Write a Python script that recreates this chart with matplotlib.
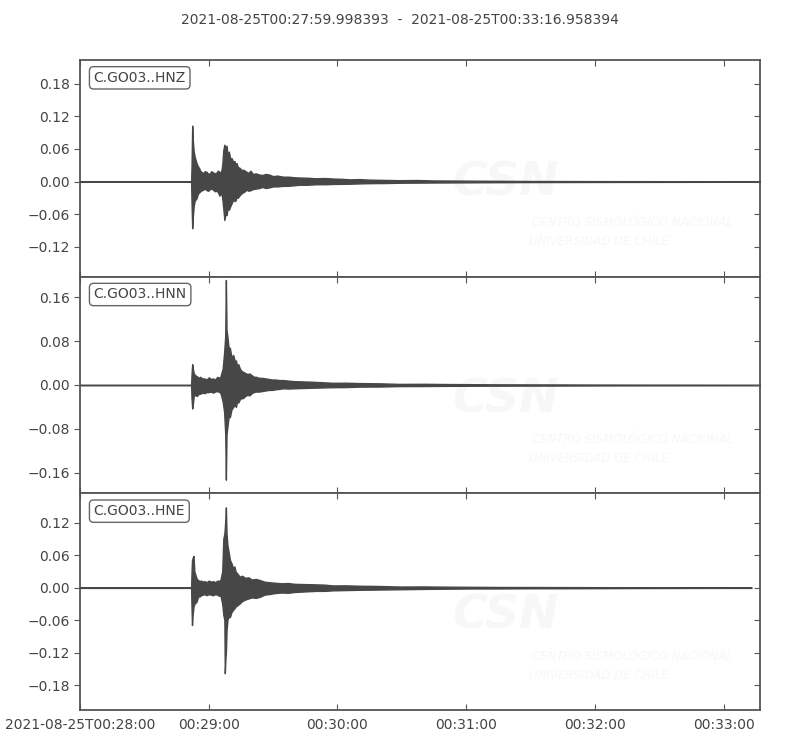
import numpy as np
import matplotlib
matplotlib.use("Agg")
import matplotlib.pyplot as plt

# trace start / end
t_start = "2021-08-25T00:27:59.998393"
t_end = "2021-08-25T00:33:16.958394"

channels = ["C.GO03..HNZ", "C.GO03..HNN", "C.GO03..HNE"]

# amplitude envelopes (seconds after start, upper, lower)
hnz_t = [0, 51.8, 52.0, 52.3, 52.6, 53.0, 53.5, 54.3, 55.0, 55.6, 56.0, 56.8,
         57.5, 58.2, 59.0, 59.8, 60.5, 61.2, 62.0, 62.8, 63.5, 64.2, 65.0,
         65.7, 66.3, 66.8, 67.3, 67.8, 68.3, 68.8, 69.4, 70.0, 70.7, 71.5,
         72.0, 72.5, 73.0, 73.5, 74.5, 75.2, 76.0, 76.8, 77.6, 78.5, 79.5,
         80.5, 82, 83.5, 85, 86.5, 88, 90, 92, 94.5, 97, 99.5, 102, 106, 110,
         114, 118, 122, 126, 130, 135, 142, 149, 157, 165, 175, 185, 197, 210,
         225, 240, 260, 280, 300, 316.96]
hnz_up = [0.0005, 0.0005, 0.03, 0.103, 0.075, 0.055, 0.045, 0.034, 0.028,
          0.024, 0.02, 0.017, 0.016, 0.019, 0.018, 0.014, 0.015, 0.019, 0.017,
          0.015, 0.016, 0.02, 0.018, 0.016, 0.03, 0.058, 0.068, 0.062, 0.066,
          0.05, 0.055, 0.043, 0.043, 0.035, 0.038, 0.031, 0.034, 0.027, 0.025,
          0.021, 0.022, 0.02, 0.018, 0.016, 0.02, 0.014, 0.015, 0.013, 0.012,
          0.014, 0.013, 0.01, 0.011, 0.009, 0.009, 0.008, 0.0074, 0.007, 0.006,
          0.0065, 0.0055, 0.005, 0.004, 0.0045, 0.0035, 0.003, 0.0025, 0.0028,
          0.002, 0.0018, 0.0015, 0.0013, 0.001, 0.0009, 0.0008, 0.0007, 0.0006,
          0.0005, 0.0005]
hnz_lo = [-0.0005, -0.0005, -0.04, -0.086, -0.065, -0.045, -0.035, -0.031,
          -0.022, -0.02, -0.018, -0.016, -0.015, -0.013, -0.016, -0.017,
          -0.014, -0.013, -0.015, -0.018, -0.017, -0.019, -0.026, -0.02, -0.03,
          -0.05, -0.071, -0.06, -0.062, -0.05, -0.052, -0.046, -0.04, -0.032,
          -0.036, -0.035, -0.028, -0.03, -0.025, -0.022, -0.02, -0.018, -0.015,
          -0.017, -0.016, -0.014, -0.013, -0.012, -0.01, -0.012, -0.011, -0.009,
          -0.009, -0.008, -0.008, -0.007, -0.006, -0.006, -0.005, -0.005,
          -0.0045, -0.0042, -0.004, -0.0035, -0.003, -0.0028, -0.0022, -0.002,
          -0.0018, -0.0016, -0.0014, -0.0012, -0.001, -0.0009, -0.0008,
          -0.0007, -0.0006, -0.0005, -0.0005]

hnn_t = [0, 51.8, 52.0, 52.3, 52.6, 53.0, 53.6, 54.5, 55.3, 56, 57, 58, 59,
         60, 61, 62, 63, 64, 65, 65.5, 66.5, 67.2, 67.7, 68.0, 68.3, 68.7,
         69.2, 69.9, 70.6, 71.4, 72.2, 72.7, 73.2, 73.8, 74.5, 75.2, 76, 77,
         78, 79, 80, 81, 82, 83.5, 85, 86.5, 88, 89.5, 91, 93, 94.7, 97, 100,
         104, 108, 113, 118, 124, 130, 140, 149, 160, 170, 182, 195, 210, 225,
         242, 260, 290, 316.96]
hnn_up = [0.0005, 0.0005, 0.02, 0.038, 0.03, 0.022, 0.018, 0.016, 0.013,
          0.015, 0.012, 0.012, 0.01, 0.014, 0.011, 0.012, 0.01, 0.015, 0.013,
          0.016, 0.03, 0.06, 0.09, 0.192, 0.1, 0.089, 0.07, 0.067, 0.05, 0.055,
          0.043, 0.045, 0.035, 0.038, 0.03, 0.026, 0.024, 0.022, 0.02, 0.021,
          0.018, 0.015, 0.015, 0.013, 0.013, 0.012, 0.011, 0.01, 0.01, 0.009,
          0.009, 0.008, 0.007, 0.0065, 0.006, 0.005, 0.004, 0.0042, 0.0035,
          0.003, 0.002, 0.0022, 0.0018, 0.0015, 0.0012, 0.0011, 0.001, 0.0008,
          0.0007, 0.0006, 0.0005]
hnn_lo = [-0.0005, -0.0005, -0.025, -0.043, -0.035, -0.02, -0.018, -0.02,
          -0.016, -0.016, -0.014, -0.015, -0.013, -0.013, -0.012, -0.014,
          -0.012, -0.011, -0.013, -0.015, -0.03, -0.05, -0.09, -0.173, -0.09,
          -0.077, -0.06, -0.058, -0.045, -0.04, -0.037, -0.04, -0.03, -0.032,
          -0.026, -0.024, -0.024, -0.02, -0.018, -0.019, -0.015, -0.013,
          -0.012, -0.012, -0.011, -0.01, -0.009, -0.009, -0.008, -0.007, -0.006,
          -0.0065, -0.006, -0.0055, -0.005, -0.0045, -0.004, -0.0038, -0.003,
          -0.0028, -0.002, -0.0019, -0.0016, -0.0014, -0.0012, -0.0011, -0.001,
          -0.0008, -0.0007, -0.0006, -0.0005]

hne_t = [0, 51.8, 52.0, 52.2, 52.5, 52.9, 53.3, 54.3, 55, 55.8, 56.5, 57.2,
         58, 59, 60, 61, 62, 63, 64, 64.8, 65.5, 66.3, 66.8, 67.3, 67.5, 67.8,
         68.0, 68.3, 68.7, 69.1, 69.9, 70.6, 71.4, 72.0, 72.5, 73.5, 74.5,
         75.5, 77, 78.5, 80, 82, 83.8, 86, 88, 91, 94, 97, 100, 105, 110, 114,
         118, 124, 130, 140, 149, 160, 170, 182, 195, 210, 225, 242, 260, 285,
         313.0]
hne_up = [0.0005, 0.0005, 0.03, 0.05, 0.055, 0.0585, 0.03, 0.017, 0.014,
          0.012, 0.013, 0.011, 0.012, 0.01, 0.013, 0.011, 0.012, 0.01, 0.013,
          0.012, 0.015, 0.03, 0.09, 0.1, 0.11, 0.13, 0.148, 0.1, 0.079, 0.07,
          0.051, 0.045, 0.036, 0.039, 0.03, 0.025, 0.02, 0.022, 0.018, 0.019,
          0.015, 0.016, 0.014, 0.011, 0.01, 0.009, 0.008, 0.0085, 0.007, 0.0065,
          0.006, 0.0055, 0.004, 0.0042, 0.0035, 0.003, 0.002, 0.0022, 0.0018,
          0.0015, 0.0012, 0.0011, 0.001, 0.0008, 0.0007, 0.0006, 0.0005]
hne_lo = [-0.0005, -0.0005, -0.04, -0.069, -0.05, -0.035, -0.03, -0.026,
          -0.017, -0.016, -0.014, -0.013, -0.012, -0.014, -0.012, -0.013,
          -0.014, -0.012, -0.013, -0.015, -0.015, -0.03, -0.05, -0.06, -0.158,
          -0.13, -0.12, -0.08, -0.06, -0.055, -0.054, -0.045, -0.041, -0.038,
          -0.035, -0.032, -0.029, -0.025, -0.022, -0.02, -0.018, -0.019, -0.017,
          -0.013, -0.012, -0.01, -0.009, -0.0095, -0.008, -0.007, -0.006,
          -0.006, -0.005, -0.0045, -0.004, -0.0035, -0.003, -0.0024, -0.002,
          -0.0016, -0.0015, -0.0012, -0.0012, -0.001, -0.0008, -0.0006, -0.0005]

ylims = [(-0.1754, 0.2241), (-0.198, 0.198), (-0.2258, 0.174)]
yticks = [[-0.12, -0.06, 0.0, 0.06, 0.12, 0.18],
          [-0.16, -0.08, 0.0, 0.08, 0.16],
          [-0.18, -0.12, -0.06, 0.0, 0.06, 0.12]]

minute_ticks = ["2021-08-25T00:28:00", "2021-08-25T00:29:00",
                "2021-08-25T00:30:00", "2021-08-25T00:31:00",
                "2021-08-25T00:32:00", "2021-08-25T00:33:00"]
minute_labels = ["2021-08-25T00:28:00", "00:29:00", "00:30:00", "00:31:00",
                 "00:32:00", "00:33:00"]


def to_time(sec):
    us = (np.asarray(sec) * 1e6).astype("int64").astype("timedelta64[us]")
    return np.datetime64(t_start) + us


def fmt(v):
    return ("%.2f" % abs(v)) if v >= 0 else "\u2212%.2f" % abs(v)


if __name__ == "__main__":
    traces = [(hnz_t, hnz_up, hnz_lo), (hnn_t, hnn_up, hnn_lo),
              (hne_t, hne_up, hne_lo)]

    fg = "#444444"
    wm = "#f7f7f7"
    fig = plt.figure(figsize=(8, 7.5), dpi=100)
    left, width = 0.1, 0.85
    bottom, top = 1 - 710 / 750, 1 - 60 / 750
    h = (top - bottom) / 3

    for i, (tt, up, lo) in enumerate(traces):
        ax = fig.add_axes([left, top - (i + 1) * h, width, h])
        x = to_time(tt)
        ax.fill_between(x, lo, up, color="#474747", edgecolor="#474747",
                        linewidth=1.0, zorder=3)

        # faint CSN watermark
        ax.text(0.626, 0.433, "CSN", transform=ax.transAxes, ha="center",
                va="center", fontsize=34, fontweight="bold", style="italic",
                color=wm, zorder=1, clip_on=True)
        ax.text(0.665, 0.249, "CENTRO SISMOLÓGICO NACIONAL",
                transform=ax.transAxes, ha="left", va="center", fontsize=8.5,
                style="italic", color=wm, zorder=1, clip_on=True)
        ax.text(0.66, 0.161, "UNIVERSIDAD DE CHILE", transform=ax.transAxes,
                ha="left", va="center", fontsize=8.5, style="italic",
                color=wm, zorder=1, clip_on=True)

        ax.text(0.02, 0.95, channels[i], transform=ax.transAxes, ha="left",
                va="top", fontsize=10, color=fg, zorder=5,
                bbox=dict(boxstyle="round,pad=0.3", fc="white", ec="#666666",
                          lw=1.0))

        ax.set_xlim(np.datetime64(t_start), np.datetime64(t_end))
        ax.set_ylim(*ylims[i])
        ax.set_yticks(yticks[i])
        ax.set_yticklabels([fmt(v) for v in yticks[i]])
        ax.set_xticks([np.datetime64(m) for m in minute_ticks])
        if i == 2:
            ax.set_xticklabels(minute_labels)
        else:
            ax.set_xticklabels([])

        for s in ax.spines.values():
            s.set_color("#555555")
            s.set_linewidth(1.3)
        ax.tick_params(axis="x", which="both", direction="in", top=True,
                       bottom=True, length=4, width=0.8, color="#555555",
                       labelsize=10, labelcolor=fg, pad=6)
        ax.tick_params(axis="y", which="both", direction="out", left=True,
                       right=False, length=4, width=0.8, color="#555555",
                       labelsize=10, labelcolor=fg)
        # inward ticks on the right side
        ax2 = ax.twinx()
        ax2.set_ylim(*ylims[i])
        ax2.set_yticks(yticks[i])
        ax2.set_yticklabels([])
        ax2.tick_params(axis="y", direction="in", length=4, width=0.8,
                        color="#555555")
        for s in ax2.spines.values():
            s.set_visible(False)

    fig.text(0.5, 1 - 20 / 750, t_start + "  -  " + t_end, ha="center",
             va="center", fontsize=10, color=fg)

    fig.savefig("out.png", dpi=100)
